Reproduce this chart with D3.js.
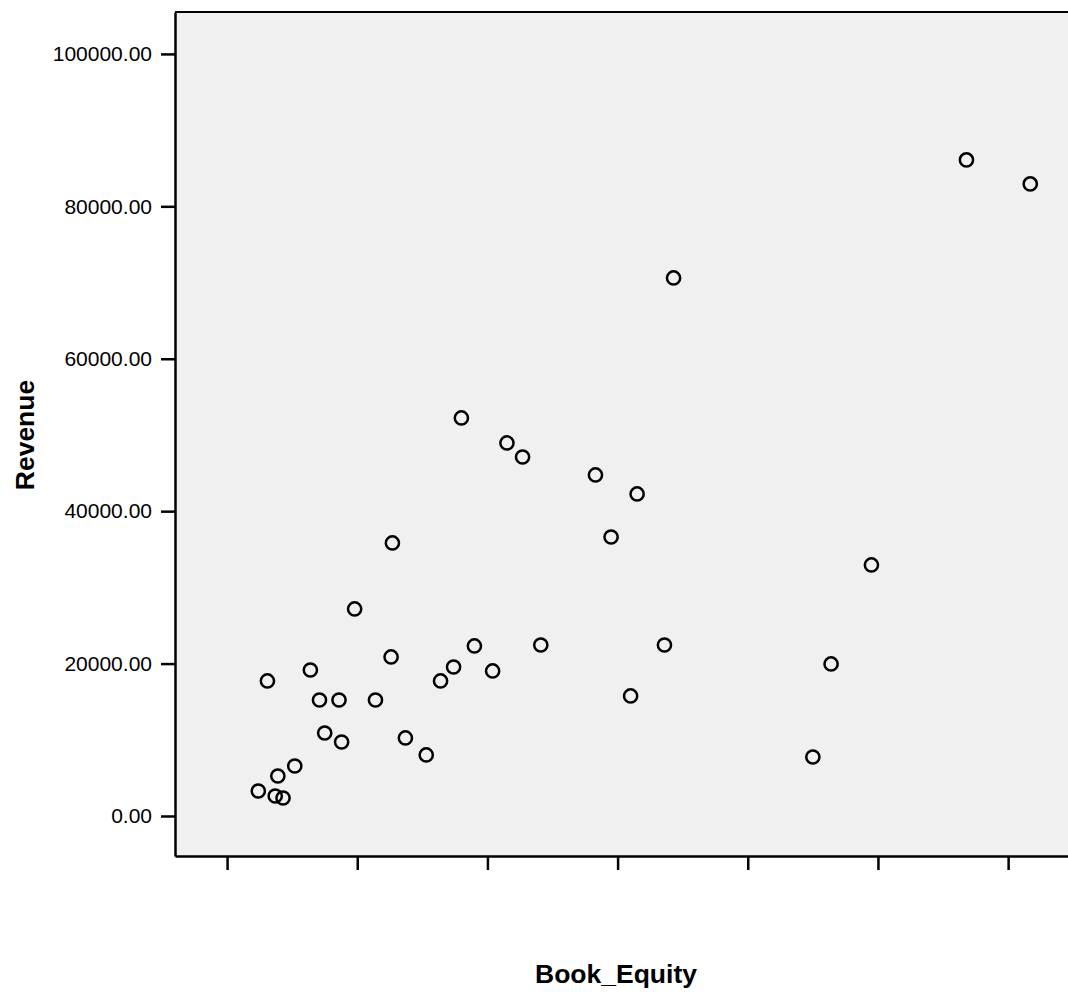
<!DOCTYPE html>
<meta charset="utf-8">
<script src="https://d3js.org/d3.v7.min.js"></script>
<style>
  body { margin: 0; background: #fff; }
  text { font-family: "Liberation Sans", Arial, sans-serif; }
</style>
<body>
<svg width="1068" height="992"></svg>
<script>
    // Book_Equity (axis unlabelled in source; values in tick units) vs Revenue
    var bookEquity = [0.24, 0.31, 0.37, 0.39, 0.43, 0.52, 0.64, 0.71, 0.75, 0.86, 0.88, 0.98,
                      1.14, 1.27, 1.26, 1.37, 1.53, 1.64, 1.74, 1.80, 1.90, 2.04, 2.15, 2.27,
                      2.41, 2.83, 2.95, 3.10, 3.15, 3.36, 3.43, 4.50, 4.64, 4.95, 5.68, 6.17];
    var revenue    = [3280, 17720, 2620, 5250, 2360, 6560, 19160, 15220, 10890, 15220, 9710, 27170,
                      15220, 35830, 20870, 10240, 8010, 17720, 19550, 52230, 22310, 19030, 48950, 47110,
                      22440, 44750, 36610, 15750, 42260, 22440, 70600, 7740, 19950, 32940, 86090, 82940];
    var yTicks = [0, 20000, 40000, 60000, 80000, 100000];
    var xTicks = [0, 1, 2, 3, 4, 5, 6];

    var plotL = 175, plotT = 12, plotR = 1068, plotB = 856;
    var svg = d3.select('svg');

    var x = d3.scaleLinear().domain([-0.4, 6.46]).range([plotL, plotR]);
    var y = d3.scaleLinear().domain([-5250, 105500]).range([plotB, plotT]);

    svg.append('rect')
        .attr('x', plotL).attr('y', plotT)
        .attr('width', plotR - plotL).attr('height', plotB - plotT)
        .attr('fill', '#f0f0f0');

    // top border
    svg.append('line')
        .attr('x1', plotL).attr('x2', plotR)
        .attr('y1', plotT).attr('y2', plotT)
        .attr('stroke', '#000').attr('stroke-width', 2);

    var yAxis = svg.append('g')
        .attr('transform', 'translate(' + plotL + ',0)')
        .call(d3.axisLeft(y).tickValues(yTicks).tickSize(14).tickPadding(9)
              .tickFormat(d3.format('.2f')).tickSizeOuter(0));

    var xAxis = svg.append('g')
        .attr('transform', 'translate(0,' + plotB + ')')
        .call(d3.axisBottom(x).tickValues(xTicks).tickSize(14)
              .tickFormat('').tickSizeOuter(0));

    [yAxis, xAxis].forEach(function(g){
        g.select('.domain').attr('stroke', '#000').attr('stroke-width', 2.5);
        g.selectAll('.tick line').attr('stroke', '#000').attr('stroke-width', 2.5);
        g.selectAll('.tick text').attr('fill', '#000')
            .style('font-size', '21px')
            .style('font-family', '"Liberation Sans", Arial, sans-serif');
    });

    svg.append('g').selectAll('circle')
        .data(bookEquity)
        .enter()
        .append('circle')
        .attr('cx', function(d){ return x(d); })
        .attr('cy', function(d, i){ return y(revenue[i]); })
        .attr('r', 6.6)
        .attr('fill', 'none')
        .attr('stroke', '#000')
        .attr('stroke-width', 2.5);

    svg.append('text')
        .attr('x', 616).attr('y', 983)
        .attr('text-anchor', 'middle')
        .style('font-size', '26.5px').style('font-weight', 'bold')
        .text('Book_Equity');

    svg.append('text')
        .attr('transform', 'translate(34,435) rotate(-90)')
        .attr('text-anchor', 'middle')
        .style('font-size', '26.5px').style('font-weight', 'bold')
        .text('Revenue');
</script>
</body>
